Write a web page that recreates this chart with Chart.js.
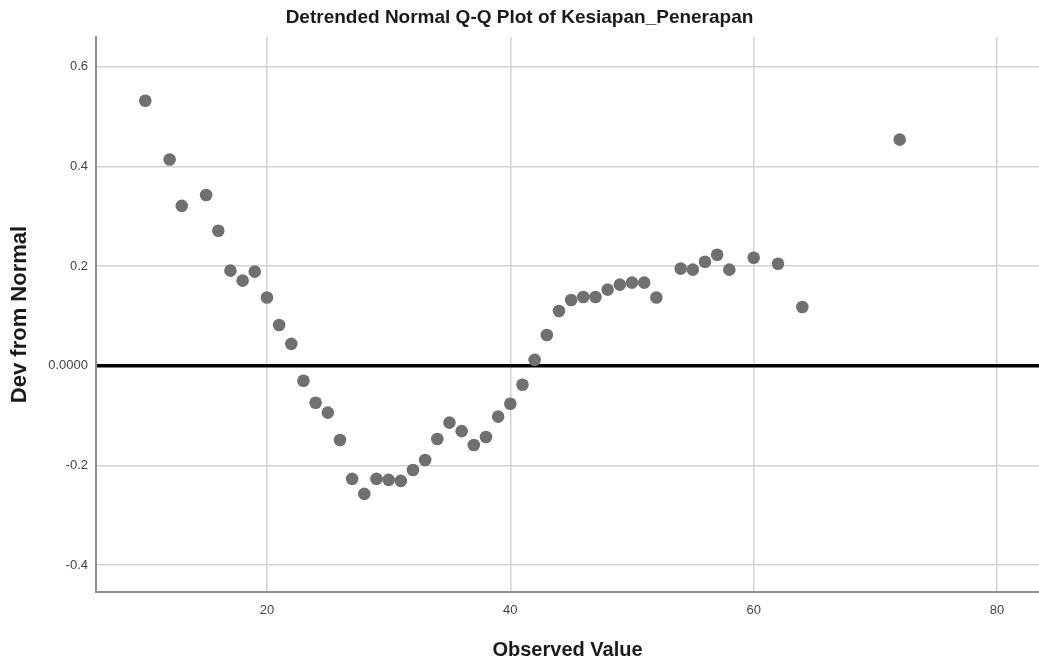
<!DOCTYPE html>
<html>
<head>
<meta charset="utf-8">
<script src="https://cdn.jsdelivr.net/npm/chart.js@4"></script>
<style>
  html, body { margin: 0; padding: 0; background: #fff; }
  #wrap { width: 1039px; height: 664px; }
</style>
</head>
<body>
<div id="wrap"><canvas id="c" width="1039" height="664"></canvas></div>
<script>
const chartTitle = 'Detrended Normal Q-Q Plot of Kesiapan_Penerapan';
const xAxisTitle = 'Observed Value';
const yAxisTitle = 'Dev from Normal';

const observedValues = [10, 12, 13, 15, 16, 17, 18, 19, 20, 21, 22, 23, 24, 25, 26, 27, 28, 29, 30, 31,
  32, 33, 34, 35, 36, 37, 38, 39, 40, 41, 42, 43, 44, 45, 46, 47, 48, 49, 50, 51,
  52, 54, 55, 56, 57, 58, 60, 62, 64, 72];
const devFromNormal = [0.532, 0.414, 0.321, 0.343, 0.271, 0.191, 0.171, 0.189, 0.137, 0.082, 0.044, -0.030, -0.074, -0.094, -0.149, -0.227, -0.257, -0.227, -0.229, -0.231,
  -0.209, -0.189, -0.147, -0.114, -0.131, -0.159, -0.143, -0.102, -0.076, -0.038, 0.012, 0.062, 0.110, 0.132, 0.138, 0.138, 0.153, 0.163, 0.167, 0.167,
  0.137, 0.195, 0.193, 0.209, 0.223, 0.193, 0.217, 0.205, 0.118, 0.454];

const xTicks = [20, 40, 60, 80];
const yTicks = [-0.4, -0.2, 0, 0.2, 0.4, 0.6];
const yTickLabels = ['-0.4', '-0.2', '0.0000', '0.2', '0.4', '0.6'];

const points = observedValues.map((x, i) => ({ x: x, y: devFromNormal[i] }));

new Chart(document.getElementById('c'), {
  type: 'scatter',
  data: {
    datasets: [{
      data: points,
      backgroundColor: '#707070',
      borderWidth: 0,
      pointRadius: 6.3,
      pointHoverRadius: 6.3
    }]
  },
  options: {
    responsive: false,
    animation: false,
    devicePixelRatio: 1,
    layout: { padding: 0, autoPadding: false },
    plugins: {
      legend: { display: false },
      tooltip: { enabled: false },
      title: {
        display: true,
        text: chartTitle,
        color: '#1a1a1a',
        font: { family: 'Liberation Sans', size: 19, weight: 'bold', lineHeight: 1.2 },
        padding: { top: 6, bottom: 8.2 }
      }
    },
    scales: {
      x: {
        type: 'linear',
        min: 5.95,
        max: 83.45,
        afterBuildTicks: (axis) => { axis.ticks = xTicks.map(v => ({ value: v })); },
        afterFit: (axis) => { axis.height = 72; axis.paddingLeft = 0; axis.paddingRight = 0; },
        grid: { color: '#d2d2d2', lineWidth: 1.5, drawTicks: false },
        border: { color: '#8f8f8f', width: 2 },
        ticks: {
          color: '#444',
          padding: 11,
          font: { family: 'Liberation Sans', size: 13 },
          callback: (v) => String(v)
        },
        title: {
          display: true,
          text: xAxisTitle,
          color: '#1a1a1a',
          font: { family: 'Liberation Sans', size: 20, weight: 'bold', lineHeight: 1.2 },
          padding: { top: 0, bottom: 2 }
        }
      },
      y: {
        type: 'linear',
        min: -0.454,
        max: 0.660,
        afterBuildTicks: (axis) => { axis.ticks = yTicks.map(v => ({ value: v })); },
        afterFit: (axis) => { axis.width = 96; axis.paddingTop = 0; axis.paddingBottom = 0; },
        grid: {
          drawTicks: false,
          color: (ctx) => (ctx.tick && ctx.tick.value === 0) ? '#000000' : '#d2d2d2',
          lineWidth: (ctx) => (ctx.tick && ctx.tick.value === 0) ? 3.5 : 1.5
        },
        border: { color: '#8f8f8f', width: 2 },
        ticks: {
          color: '#444',
          padding: 8,
          font: { family: 'Liberation Sans', size: 13 },
          callback: (v) => { const i = yTicks.indexOf(v); return i >= 0 ? yTickLabels[i] : ''; }
        },
        title: {
          display: true,
          text: yAxisTitle,
          color: '#1a1a1a',
          font: { family: 'Liberation Sans', size: 22, weight: 'bold', lineHeight: 1.2 },
          padding: { top: 7, bottom: 0 }
        }
      }
    }
  }
});
</script>
</body>
</html>
